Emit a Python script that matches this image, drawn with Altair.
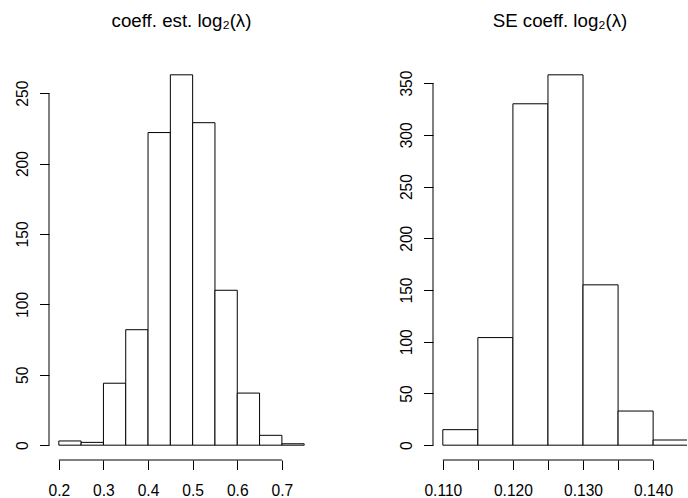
import altair as alt
import pandas as pd

# Histogram of the coefficient estimates of log2(lambda)
est_breaks = [0.20, 0.25, 0.30, 0.35, 0.40, 0.45, 0.50, 0.55, 0.60, 0.65, 0.70, 0.75]
est_counts = [3, 2, 44, 82, 222, 263, 229, 110, 37, 7, 1]
est_xticks = [0.2, 0.3, 0.4, 0.5, 0.6, 0.7]
est_xlabels = ["0.2", "0.3", "0.4", "0.5", "0.6", "0.7"]
est_yticks = [0, 50, 100, 150, 200, 250]

# Histogram of the standard errors of that coefficient
se_breaks = [0.110, 0.115, 0.120, 0.125, 0.130, 0.135, 0.140, 0.145]
se_counts = [15, 104, 330, 358, 155, 33, 5]
se_xticks = [0.110, 0.115, 0.120, 0.125, 0.130, 0.135, 0.140, 0.145]
se_xlabels = ["0.110", "0.120", "0.130", "0.140"]
se_yticks = [0, 50, 100, 150, 200, 250, 300, 350]

FONT = "Liberation Sans"
LABEL_SIZE = 15.6
TITLE_SIZE = 18.7
PANEL_H = 400
FULL_W = 265
TICK = 9.5


def extended(lo, hi, frac=0.04):
    pad = (hi - lo) * frac
    return [lo - pad, hi + pad]


def panel(breaks, counts, xticks, xlabels, yticks, title, width, gutter, decimals):
    xdom = extended(breaks[0], breaks[-1])
    if width < FULL_W:
        # the panel is cut at the page edge: keep the same scale, show less of it
        xdom = [xdom[0], xdom[0] + (xdom[1] - xdom[0]) * width / FULL_W]
    ydom = extended(0, max(counts))
    xt = [t for t in xticks if t <= xdom[1] + 1e-12]

    bars = pd.DataFrame({"lo": breaks[:-1], "hi": breaks[1:], "n": counts, "base": 0})
    fmt = f".{decimals}f"
    label_expr = (
        f"indexof({xlabels!r}, format(datum.value, '{fmt}')) >= 0 "
        f"? format(datum.value, '{fmt}') : ''"
    )
    xaxis = alt.Axis(
        values=xt, labelExpr=label_expr, domain=False, grid=False, title=None,
        tickSize=TICK, tickColor="black", tickWidth=1, labelPadding=14,
        labelFont=FONT, labelFontSize=LABEL_SIZE, labelColor="black",
        labelOverlap=False, labelFlush=False,
    )
    yaxis = alt.Axis(
        values=yticks, domain=False, grid=False, title=None,
        tickSize=TICK, tickColor="black", tickWidth=1, labelPadding=9,
        labelAngle=270, labelAlign="center", labelBaseline="bottom",
        labelFont=FONT, labelFontSize=LABEL_SIZE, labelColor="black",
        labelOverlap=False, labelFlush=False,
    )
    xs = alt.Scale(domain=xdom, nice=False, zero=False)
    ys = alt.Scale(domain=ydom, nice=False, zero=False)

    hist = alt.Chart(bars).mark_rect(
        fill="white", stroke="black", strokeWidth=1, clip=True
    ).encode(
        x=alt.X("lo:Q", scale=xs, axis=xaxis),
        x2="hi:Q",
        y=alt.Y("n:Q", scale=ys, axis=yaxis),
        y2="base:Q",
    )

    # axis lines run from the first to the last tick only
    xline = alt.Chart(pd.DataFrame({"a": [xt[0]], "b": [xt[-1]]})).mark_rule(
        color="black", strokeWidth=1
    ).encode(
        x=alt.X("a:Q", scale=xs, axis=xaxis), x2="b:Q", y=alt.value(PANEL_H)
    )
    yline = alt.Chart(pd.DataFrame({"a": [yticks[0]], "b": [yticks[-1]]})).mark_rule(
        color="black", strokeWidth=1
    ).encode(
        y=alt.Y("a:Q", scale=ys, axis=yaxis), y2="b:Q", x=alt.value(0)
    )

    # blank margin to the left of the plot region
    margin = alt.Chart(pd.DataFrame({"k": [0]})).mark_rect(opacity=0).encode(
        x=alt.value(-gutter), x2=alt.value(0), y=alt.value(0), y2=alt.value(1)
    )

    return alt.layer(margin, hist, xline, yline).properties(
        width=width,
        height=PANEL_H,
        title=alt.TitleParams(
            title, font=FONT, fontSize=TITLE_SIZE, fontWeight="normal",
            color="black", anchor="middle", frame="group", offset=29,
        ),
    )


left = panel(est_breaks, est_counts, est_xticks, est_xlabels, est_yticks,
             "coeff. est. log\u2082(\u03bb)", FULL_W, 49, 1)
right = panel(se_breaks, se_counts, se_xticks, se_xlabels, se_yticks,
              "SE coeff. log\u2082(\u03bb)", 254, 119, 3)

chart = alt.hconcat(left, right, spacing=0).properties(
    padding={"left": 0, "top": 12, "right": 0, "bottom": 0},
    background="white",
).configure_view(stroke=None)

chart.save("out.html", embed_options={"renderer": "svg", "actions": False})
